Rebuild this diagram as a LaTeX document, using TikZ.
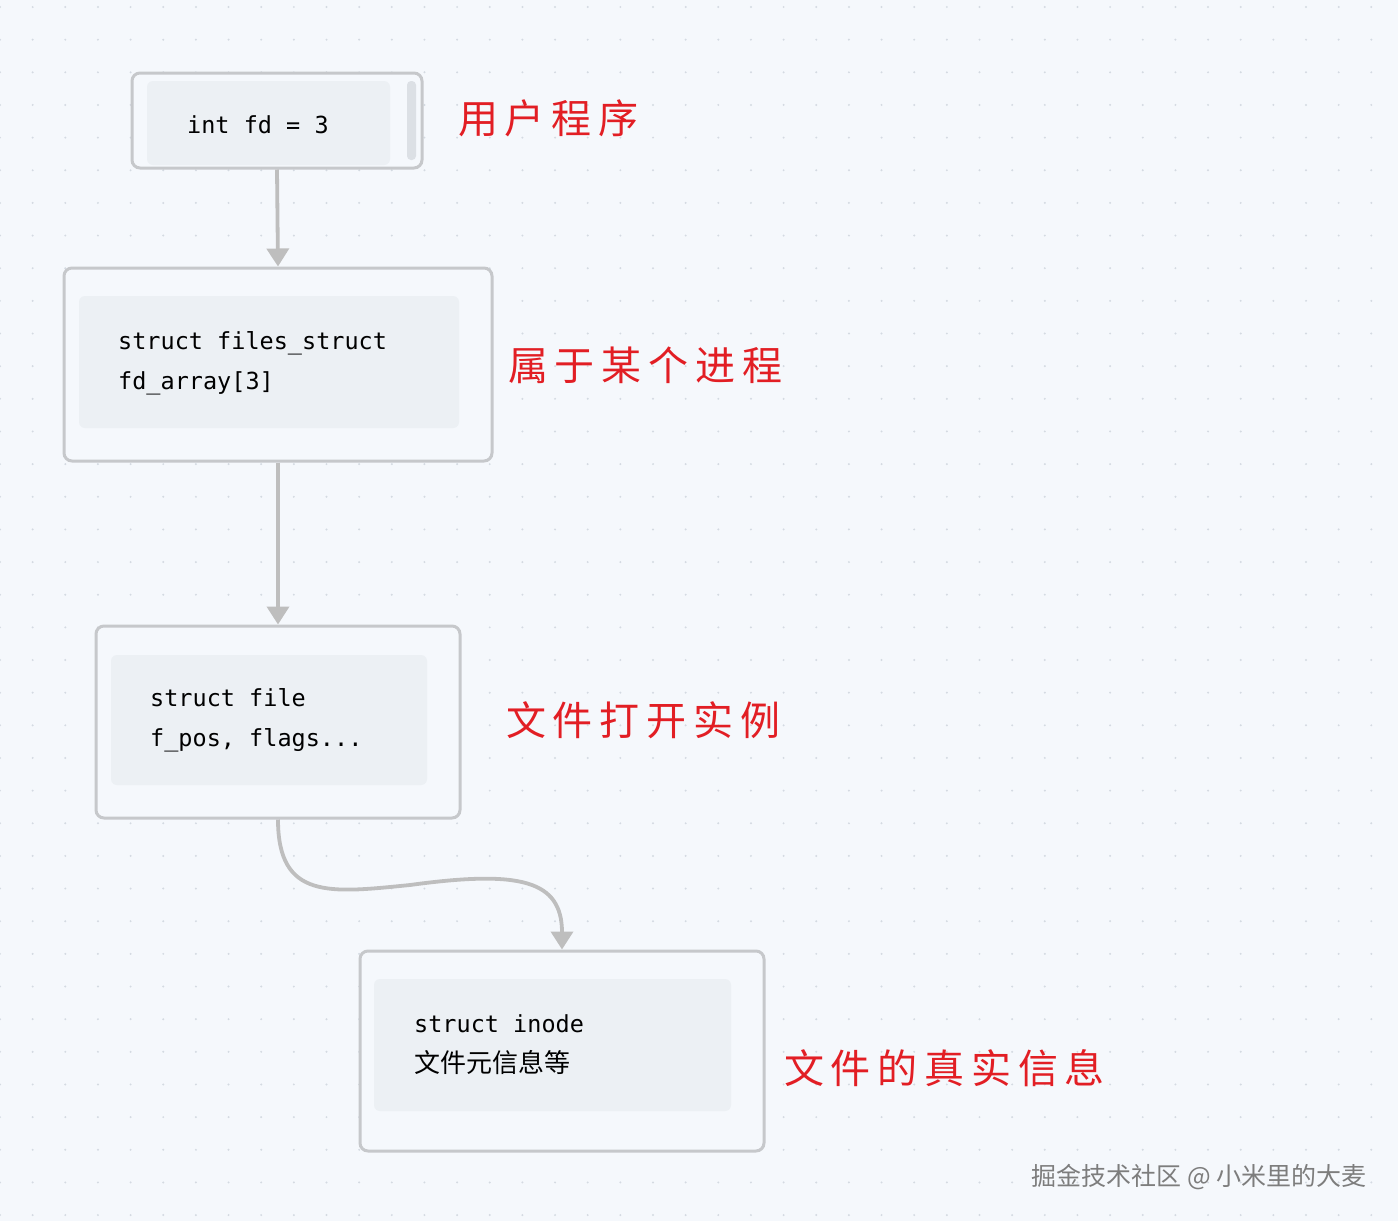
\documentclass[tikz,border=0pt]{standalone}
\usepackage{fontspec}
\setmonofont{DejaVu Sans Mono}
\newfontfamily\cjk{Noto Sans CJK SC}
\newfontfamily\cjkwide[LetterSpace=17]{Noto Sans CJK SC}
\usepackage{tikz}
\usetikzlibrary{arrows.meta}
\usepackage{xcolor}

\definecolor{bgcol}{RGB}{245,248,252}
\definecolor{dotcol}{RGB}{212,218,226}
\definecolor{boxline}{RGB}{198,200,203}
\definecolor{panelcol}{RGB}{236,240,244}
\definecolor{barcol}{RGB}{220,224,229}
\definecolor{linkcol}{RGB}{190,190,190}
\definecolor{notered}{RGB}{226,30,36}
\definecolor{markgray}{RGB}{125,125,125}

\begin{document}
\begin{tikzpicture}[x=1pt,y=-1pt,
        outerbox/.style={draw=boxline,line width=3pt,rounded corners=8pt,fill=bgcol},
        panel/.style={fill=panelcol,rounded corners=6pt,inner sep=0pt},
        code/.style={font=\ttfamily\fontsize{23.5}{40}\selectfont,align=left,anchor=west,inner sep=0pt},
        note/.style={font=\cjkwide\fontsize{40}{40}\selectfont,text=notered,anchor=west,inner sep=0pt},
        link/.style={draw=linkcol,line width=3.8pt,-{Triangle[width=22pt,length=18pt]}}]
        \def\gap{32.65}

        %------------------
        % background
        %------------------
        \fill[bgcol] (0,0) rectangle (1398,1221);
        \useasboundingbox (0,0) rectangle (1398,1221);
        \foreach \i in {0,...,42}
          \foreach \j in {0,...,37}
            \fill[dotcol] ({\gap*\i},{7+\gap*\j}) circle (1.1);

        %------------------
        % boxes
        %------------------
        \node[outerbox,minimum width=290pt,minimum height=95pt] (prog) at (277,120.5) {};
        \node[panel,minimum width=243pt,minimum height=84pt] (prog-in) at (268.5,123) {};
        \fill[barcol,rounded corners=4pt] (407,81) rectangle (416,160);
        \node[code] (prog-txt) at (187,125) {int fd = 3};

        \node[outerbox,minimum width=428pt,minimum height=193pt] (files) at (278,364.5) {};
        \node[panel,minimum width=380pt,minimum height=132pt] (files-in) at (269,362) {};
        \node[code] (files-txt) at (118,363) {struct files\_struct\\fd\_array[3]};

        \node[outerbox,minimum width=364pt,minimum height=192pt] (file) at (278,722) {};
        \node[panel,minimum width=316pt,minimum height=130pt] (file-in) at (269,720) {};
        \node[code] (file-txt) at (150,720) {struct file\\f\_pos, flags...};

        \node[outerbox,minimum width=404pt,minimum height=200pt] (inode) at (562,1051) {};
        \node[panel,minimum width=357pt,minimum height=132pt] (inode-in) at (552.5,1045) {};
        \node[code] (inode-txt) at (414,1045) {struct inode\\{\cjk\fontsize{26}{40}\selectfont 文件元信息等}};

        %------------------
        % links
        %------------------
        \draw[link] (prog.south) -- (files.north);
        \draw[link] (files.south) -- (file.north);
        \draw[link] (file.south) .. controls (278,900) and (330,893) .. (410,885)
                .. controls (520,870) and (562,880) .. (inode.north);

        % labels
        \node[note] (prog-note) at (458,118) {用户程序};
        \node[note] (files-note) at (508,365) {属于某个进程};
        \node[note] (file-note) at (506,720) {文件打开实例};
        \node[note] (inode-note) at (784,1068) {文件的真实信息};

        \node[anchor=east,inner sep=0pt,text=markgray,font=\cjk\fontsize{25}{25}\selectfont] (mark) at (1367,1177) {掘金技术社区 @ 小米里的大麦};
\end{tikzpicture}
\end{document}
